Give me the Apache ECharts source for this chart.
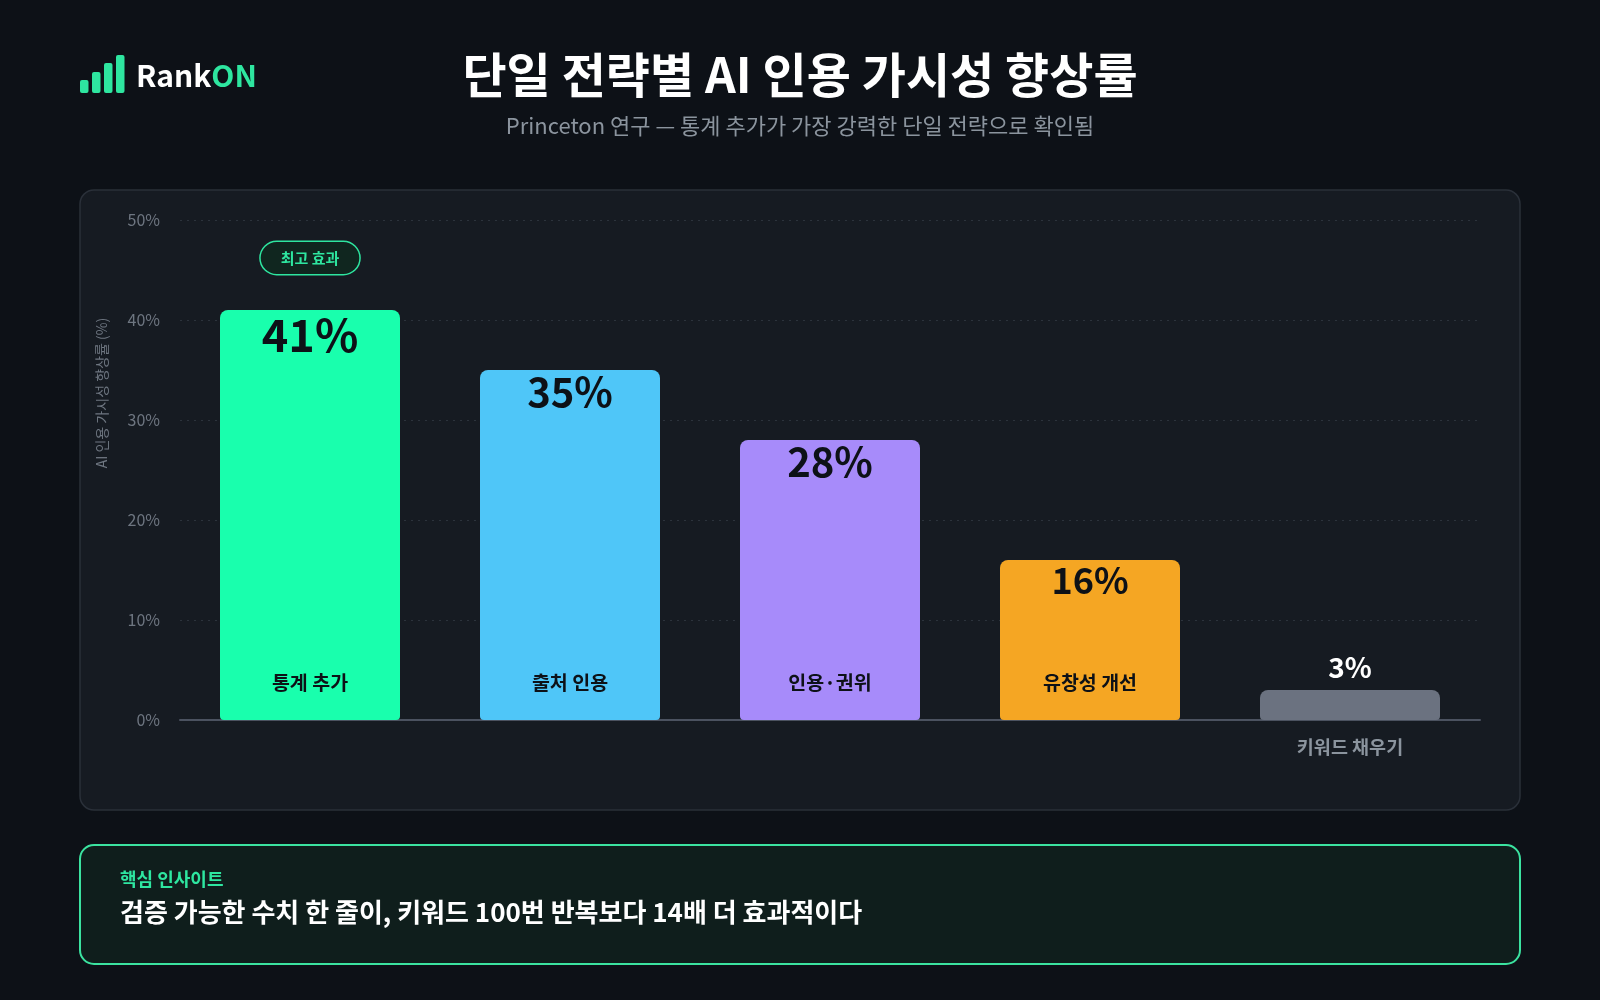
<!DOCTYPE html>
<html>
<head>
<meta charset="utf-8">
<script src="https://cdn.jsdelivr.net/npm/echarts@6/dist/echarts.min.js"></script>
<style>
  html, body { margin: 0; padding: 0; background: #0d1117; }
  #chart { width: 1600px; height: 1000px; }
</style>
</head>
<body>
<div id="chart"></div>
<script>
// ---- data ----
const categories = ['통계 추가', '출처 인용', '인용·권위', '유창성 개선', '키워드 채우기'];
const values = [41, 35, 28, 16, 3];
const yTicks = [0, 10, 20, 30, 40, 50];
const badgeCategoryIndex = 0;
const badgeValue = 46.2;
const badgeText = '최고 효과';
const titleText = '단일 전략별 AI 인용 가시성 향상률';
const subtitleText = 'Princeton 연구 — 통계 추가가 가장 강력한 단일 전략으로 확인됨';
const yAxisName = 'AI 인용 가시성 향상률 (%)';
const insightLabel = '핵심 인사이트';
const insightText = '검증 가능한 수치 한 줄이, 키워드 100번 반복보다 14배 더 효과적이다';

// ---- styles ----
const FONT = '"Noto Sans CJK KR", "Noto Sans", sans-serif';
const barColors = ['#19ffad', '#4fc6f8', '#a78bfa', '#f5a623', '#6b7280'];
const valueFontSizes = [45, 40, 40, 36, 28];
const GREEN = '#2ee6a0';

const chart = echarts.init(document.getElementById('chart'), null, { renderer: 'canvas' });

const lastIdx = values.length - 1;

const mainData = values.map((v, i) => ({
  value: v,
  itemStyle: { color: barColors[i], borderRadius: [8, 8, 4, 4] },
  label: i === lastIdx ? {
    show: true, position: 'top', distance: 9,
    color: '#ffffff', fontSize: valueFontSizes[i], fontWeight: 'bold'
  } : {
    show: true, position: 'insideTop', distance: 2,
    color: '#0d1117', fontSize: valueFontSizes[i], fontWeight: 'bold'
  }
}));

const nameData = values.map((v, i) => ({
  value: v,
  label: { show: i !== lastIdx }
}));

const option = {
  backgroundColor: '#0d1117',
  textStyle: { fontFamily: FONT },
  animation: false,
  grid: { left: 180, right: 120, top: 220, bottom: 280 },
  xAxis: {
    type: 'category',
    data: categories,
    axisLine: { lineStyle: { color: '#4b5260', width: 2 } },
    axisTick: { show: false },
    axisLabel: {
      margin: 18,
      color: '#8b949e', fontSize: 18.5, fontWeight: 'bold', fontFamily: FONT,
      formatter: (v, i) => (i === lastIdx ? v : '')
    }
  },
  yAxis: {
    type: 'value',
    min: yTicks[0], max: yTicks[yTicks.length - 1], interval: yTicks[1] - yTicks[0],
    axisLine: { show: false },
    axisTick: { show: false },
    axisLabel: { formatter: '{value}%', color: '#6e7681', fontSize: 16, margin: 20, fontFamily: FONT },
    splitLine: { lineStyle: { color: '#2c333c', type: [2, 5], width: 1 } }
  },
  series: [
    {
      type: 'bar',
      barWidth: 180,
      data: mainData,
      label: { fontFamily: FONT, formatter: p => p.value + '%' },
      markPoint: {
        symbolSize: 0,
        silent: true,
        data: [{
          coord: [badgeCategoryIndex, badgeValue],
          symbol: 'circle', symbolSize: 0,
          label: {
            show: true, position: 'inside',
            formatter: badgeText,
            color: GREEN, fontSize: 15, fontWeight: 'bold', fontFamily: FONT,
            backgroundColor: '#10261f',
            borderColor: GREEN, borderWidth: 1.5, borderRadius: 17,
            padding: [7, 20], lineHeight: 18
          }
        }]
      },
      z: 2
    },
    {
      type: 'bar',
      barWidth: 180,
      barGap: '-100%',
      silent: true,
      data: nameData,
      itemStyle: { color: 'rgba(0,0,0,0)' },
      label: {
        position: 'insideBottom', distance: 28,
        color: '#0d1117', fontSize: 19.5, fontWeight: 'bold', fontFamily: FONT,
        formatter: p => categories[p.dataIndex]
      },
      z: 3
    }
  ],
  graphic: [
    // chart panel
    { type: 'rect', z: -10, shape: { x: 80, y: 190, width: 1440, height: 620, r: 14 },
      style: { fill: '#161b22', stroke: '#2a3039', lineWidth: 1.5 } },
    // insight box
    { type: 'rect', z: -10, shape: { x: 80, y: 845, width: 1440, height: 119, r: 14 },
      style: { fill: '#0f1e1c', stroke: '#3be3a0', lineWidth: 2 } },
    { type: 'text', x: 120, y: 879, style: { text: insightLabel, fill: GREEN, font: 'bold 18px ' + FONT, verticalAlign: 'middle' } },
    { type: 'text', x: 120, y: 912, style: { text: insightText, fill: '#ffffff', font: 'bold 26px ' + FONT, verticalAlign: 'middle' } },
    // logo bars
    { type: 'rect', shape: { x: 80, y: 80, width: 8.5, height: 13, r: 2 }, style: { fill: GREEN } },
    { type: 'rect', shape: { x: 92, y: 72, width: 8.5, height: 21, r: 2 }, style: { fill: GREEN } },
    { type: 'rect', shape: { x: 104, y: 63, width: 8.5, height: 30, r: 2 }, style: { fill: GREEN } },
    { type: 'rect', shape: { x: 116, y: 55, width: 8.5, height: 38, r: 2 }, style: { fill: GREEN } },
    { type: 'text', x: 136, y: 76, style: {
        text: '{a|Rank}{b|ON}', verticalAlign: 'middle',
        rich: {
          a: { fill: '#ffffff', fontSize: 30, fontWeight: 'bold', fontFamily: FONT },
          b: { fill: GREEN, fontSize: 30, fontWeight: 'bold', fontFamily: FONT }
        }
    } },
    // title / subtitle
    { type: 'text', x: 800, y: 75, style: { text: titleText, fill: '#ffffff', font: 'bold 48px ' + FONT, align: 'center', verticalAlign: 'middle' } },
    { type: 'text', x: 800, y: 126, style: { text: subtitleText, fill: '#8b949e', font: '22px ' + FONT, align: 'center', verticalAlign: 'middle' } },
    // y axis name
    { type: 'text', x: 102, y: 393, rotation: Math.PI / 2, style: { text: yAxisName, fill: '#6e7681', font: '14px ' + FONT, align: 'center', verticalAlign: 'middle' } }
  ]
};

chart.setOption(option);
</script>
</body>
</html>
